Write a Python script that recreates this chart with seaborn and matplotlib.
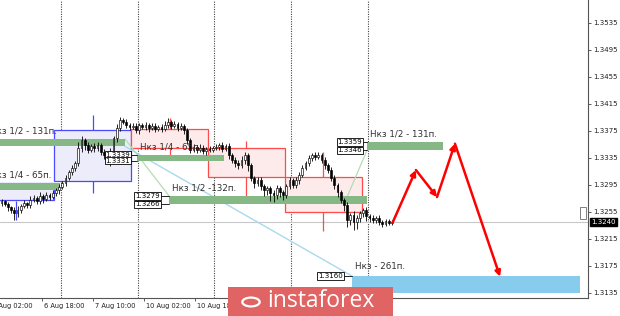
import numpy as np
import pandas as pd
import matplotlib
matplotlib.use("Agg")
import matplotlib.pyplot as plt
import matplotlib.transforms as mtransforms
from matplotlib.patches import Rectangle, Circle
import seaborn as sns

# ---------------- data (H1 candles, bar index = hour) ----------------
first_open = 1.3268
close = [
    1.3271, 1.3267, 1.3262, 1.3258, 1.3253, 1.3258, 1.3264, 1.3268, 1.3265, 1.3273,
    1.3276, 1.3271, 1.3279, 1.3274, 1.3280, 1.3277, 1.3283, 1.3287, 1.3292, 1.3298,
    1.3305, 1.3314, 1.3320, 1.3327, 1.3350, 1.3361, 1.3354, 1.3347, 1.3353, 1.3350,
    1.3354, 1.3344, 1.3339, 1.3332, 1.3344, 1.3364, 1.3379, 1.3391, 1.3388, 1.3384,
    1.3381, 1.3382, 1.3376, 1.3384, 1.3381, 1.3384, 1.3379, 1.3382, 1.3378, 1.3381,
    1.3378, 1.3384, 1.3388, 1.3382, 1.3385, 1.3379, 1.3382, 1.3376, 1.3361, 1.3347,
    1.3351, 1.3347, 1.3350, 1.3345, 1.3348, 1.3347, 1.3350, 1.3351, 1.3354, 1.3348,
    1.3353, 1.3339, 1.3332, 1.3327, 1.3324, 1.3332, 1.3339, 1.3324, 1.3305, 1.3298,
    1.3302, 1.3293, 1.3287, 1.3290, 1.3283, 1.3280, 1.3290, 1.3284, 1.3280, 1.3293,
    1.3302, 1.3295, 1.3302, 1.3310, 1.3320, 1.3327, 1.3335, 1.3339, 1.3336, 1.3339,
    1.3332, 1.3324, 1.3317, 1.3305, 1.3295, 1.3284, 1.3273, 1.3265, 1.3243, 1.3250,
    1.3240, 1.3246, 1.3253, 1.3258, 1.3249, 1.3246, 1.3243, 1.3246, 1.3240, 1.3237,
    1.3242, 1.3239, 1.3240,
]
up_wick_pips = [
    3, 2, 3, 2, 4, 5, 3, 4, 2, 6, 4, 3, 5, 3, 4, 3, 5, 3, 4, 3,
    4, 3, 5, 4, 8, 6, 4, 5, 3, 4, 5, 3, 4, 3, 5, 4, 6, 5, 3, 4,
    3, 4, 5, 2, 3, 4, 3, 5, 4, 3, 4, 5, 6, 3, 4, 3, 4, 3, 4, 3,
    4, 3, 5, 4, 3, 4, 3, 5, 3, 4, 3, 4, 3, 4, 5, 6, 4, 3, 4, 3,
    4, 5, 3, 4, 3, 4, 5, 3, 4, 3, 4, 3, 5, 4, 5, 3, 4, 3, 5, 4,
    3, 4, 3, 4, 5, 3, 4, 3, 5, 4, 6, 5, 4, 3, 4, 3, 4, 3, 4, 3,
    3, 2, 3,
]
down_wick_pips = [
    4, 3, 5, 4, 10, 6, 4, 3, 5, 4, 3, 5, 4, 6, 3, 4, 3, 4, 5, 3,
    4, 3, 4, 5, 4, 6, 7, 5, 4, 6, 5, 4, 6, 5, 9, 4, 5, 4, 3, 4,
    5, 3, 4, 6, 3, 4, 5, 3, 4, 3, 4, 3, 5, 4, 3, 4, 3, 5, 6, 5,
    4, 5, 3, 4, 5, 4, 3, 4, 5, 4, 3, 5, 4, 6, 5, 4, 6, 8, 5, 7,
    5, 6, 8, 7, 12, 11, 6, 7, 8, 5, 4, 5, 4, 5, 4, 3, 4, 5, 4, 3,
    4, 5, 4, 5, 6, 7, 5, 8, 10, 8, 12, 11, 6, 5, 7, 6, 5, 4, 5, 4,
    3, 4, 3,
]

y_ticks = [1.3135, 1.3175, 1.3215, 1.3255, 1.3295, 1.3335, 1.3375, 1.3415,
           1.3455, 1.3495, 1.3535]
x_tick_pos = [-3.5, 12.5, 28.5, 44.5, 60.5]
x_tick_labels = ["6 Aug 02:00", "6 Aug 18:00", "7 Aug 10:00", "10 Aug 02:00",
                 "10 Aug 18:00"]
day_separators = [18.5, 42.5, 66.5, 90.5, 114.5]
current_price = 1.3240

# rectangles: (start bar, end bar, low, high)
blue_boxes = [(-10, 16.5, 1.3273, 1.3298), (16.5, 40.5, 1.3301, 1.3376)]
red_boxes = [(40.5, 64.5, 1.3350, 1.3378), (64.5, 88.5, 1.3307, 1.3350),
             (88.5, 112.5, 1.3255, 1.3307)]
box_mid_blue = [(4.5, [(1.3243, 1.3271)]), (28.5, [(1.3376, 1.3398), (1.3283, 1.3301)])]
box_mid_red = [(52.5, [(1.3378, 1.3394), (1.3333, 1.3350)]),
               (76.5, [(1.3350, 1.3360), (1.3268, 1.3307)]),
               (100.5, [(1.3307, 1.3344), (1.3227, 1.3255)])]

green_bands = [(-4.5, 38.6, 1.3352, 1.3363, "Нкз 1/2 - 131п."),
               (-4.5, 18.3, 1.3288, 1.3298, "Нкз 1/4 - 65п."),
               (42.3, 69.5, 1.3331, 1.3339, "Нкз 1/4 - 65п."),
               (52.3, 114.2, 1.3266, 1.3279, "Нкз 1/2 -132п."),
               (114.2, 138.0, 1.3346, 1.3359, "Нкз 1/2 - 131п.")]
blue_band = (109.5, 180.8, 1.3135, 1.3160, "Нкз - 261п.")

# price labels: (right edge bar, price, text, line end bar)
price_labels = [(112.7, 1.3359, "1.3359", 114.2), (112.7, 1.3346, "1.3346", 114.2),
                (49.5, 1.3279, "1.3279", 52.3), (49.5, 1.3266, "1.3266", 52.3),
                (106.7, 1.3160, "1.3160", 109.5),
                (40.2, 1.3339, "1.3339", 42.3), (40.2, 1.3331, "1.3331", 42.3)]

# projection path
path_x = [122.3, 129.5, 136.1, 141.7, 155.8]
path_y = [1.3240, 1.3317, 1.3277, 1.3356, 1.3159]

# ---------------- figure ----------------
sns.set_theme(style="white")
plt.rcParams['font.family'] = ['DejaVu Sans']

W, H = 620, 316
fig = plt.figure(figsize=(W / 100, H / 100), dpi=100)
ax = fig.add_axes([0, 18 / H, 588 / W, 298 / H])

# day separators
for d in day_separators:
    ax.axvline(d, color="#444444", lw=0.8, ls=(0, (1, 1.2)), zorder=1)

# current price line
ax.axhline(current_price, color="#c8c8c8", lw=0.8, zorder=1)

# blue boxes
for x0, x1, lo, hi in blue_boxes:
    ax.add_patch(Rectangle((x0, lo), x1 - x0, hi - lo, facecolor="#ececfa",
                           edgecolor="#4a4aff", lw=0.9, zorder=2))
for xm, segs in box_mid_blue:
    for lo, hi in segs:
        ax.vlines(xm, lo, hi, color="#4a4aff", lw=0.9, zorder=2)

# red boxes
for x0, x1, lo, hi in red_boxes:
    ax.add_patch(Rectangle((x0, lo), x1 - x0, hi - lo, facecolor="#fdeaea",
                           edgecolor="#ff4a4a", lw=0.9, zorder=2))
for xm, segs in box_mid_red:
    for lo, hi in segs:
        ax.vlines(xm, lo, hi, color="#ff4a4a", lw=0.9, zorder=2)

# green bands
for x0, x1, lo, hi, txt in green_bands:
    ax.add_patch(Rectangle((x0, lo), x1 - x0, hi - lo, facecolor="#86b886",
                           edgecolor="none", zorder=3))
    ax.annotate(txt, xy=(x0, hi), xytext=(3, 8), textcoords="offset pixels",
                fontsize=6.3, color="#303030", va="center", ha="left", zorder=6,
                annotation_clip=False)

bx0, bx1, blo, bhi, btxt = blue_band
ax.add_patch(Rectangle((bx0, blo), bx1 - bx0, bhi - blo, facecolor="#87ccec",
                       edgecolor="none", zorder=3))
ax.annotate(btxt, xy=(bx0, bhi), xytext=(3, 9), textcoords="offset pixels",
            fontsize=6.3, color="#303030", va="center", ha="left", zorder=6,
            annotation_clip=False)

# diagonal guide lines
ax.plot([38.6, 109.5], [1.3352, 1.3160], color="#a9d9ee", lw=1.0, zorder=2)
ax.plot([38.6, 52.3], [1.3363, 1.3279], color="#b5dcb5", lw=0.9, zorder=2)
ax.plot([107.0, 114.2], [1.3266, 1.3346], color="#b5dcb5", lw=0.9, zorder=2)

# candles
df = pd.DataFrame({"close": close})
df["open"] = [first_open] + close[:-1]
df["high"] = df[["open", "close"]].max(axis=1) + np.array(up_wick_pips) * 1e-4
df["low"] = df[["open", "close"]].min(axis=1) - np.array(down_wick_pips) * 1e-4
df["bar"] = np.arange(len(df))
ax.vlines(df["bar"], df["low"], df["high"], color="black", lw=0.6, zorder=4)
bull = df["close"] >= df["open"]
heights = (df["close"] - df["open"]).abs().clip(lower=0.00004)
bottoms = df[["open", "close"]].min(axis=1)
ax.bar(df["bar"][bull], heights[bull], bottom=bottoms[bull], width=0.62,
       color="white", edgecolor="black", lw=0.45, zorder=5)
ax.bar(df["bar"][~bull], heights[~bull], bottom=bottoms[~bull], width=0.62,
       color="black", edgecolor="black", lw=0.45, zorder=5)

# price labels
for xr, p, txt, xe in price_labels:
    ax.plot([xr, xe], [p, p], color="black", lw=0.6, zorder=6)
    ax.text(xr, p, txt, fontsize=5, ha="right", va="center", color="black",
            bbox=dict(boxstyle="square,pad=0.12", fc="white", ec="black", lw=0.6),
            zorder=7)

# projection arrows
for i in range(len(path_x) - 1):
    ax.annotate("", xy=(path_x[i + 1], path_y[i + 1]), xytext=(path_x[i], path_y[i]),
                arrowprops=dict(arrowstyle="-|>", color="#ff0000", lw=1.8,
                                mutation_scale=8, shrinkA=0, shrinkB=0),
                zorder=8)

# shift marker
ax.add_patch(Rectangle((180.9, 1.3244), 1.8, 0.0018, facecolor="white",
                       edgecolor="#808080", lw=0.7, zorder=6))

# axes styling
for s in ["top", "left"]:
    ax.spines[s].set_visible(False)
for s in ["right", "bottom"]:
    ax.spines[s].set_color("#555555")
    ax.spines[s].set_linewidth(0.8)
ax.yaxis.tick_right()
ax.set_yticks(y_ticks)
ax.set_yticklabels([f"{v:.4f}" for v in y_ticks], fontsize=5, color="#202020")
ax.tick_params(axis="y", direction="out", length=2.5, width=0.6, pad=1.5,
               colors="#404040", labelcolor="#202020", right=True)
ax.set_xticks(x_tick_pos)
ax.set_xticklabels([])
ax.tick_params(axis="x", direction="out", length=2.5, width=0.6,
               colors="#404040", bottom=True)
ax.grid(False)
# time labels, left-aligned just right of each tick (first one runs off the left edge)
for xp, lab in zip(x_tick_pos, x_tick_labels):
    ax.annotate(lab, xy=(xp, 0), xycoords=("data", "axes fraction"),
                xytext=(2, -8), textcoords="offset pixels", fontsize=4.8,
                color="#202020", ha="left", va="center", annotation_clip=False)

# limits last (set_xticks would otherwise widen them)
ax.set_xlim(-0.47, 183.28)
ax.set_ylim(1.31274, 1.35689)

# current price tag on the axis
trans = mtransforms.blended_transform_factory(ax.transAxes, ax.transData)
ax.text(1.006, current_price, "1.3240", transform=trans, fontsize=5, color="white",
        ha="left", va="center", clip_on=False,
        bbox=dict(boxstyle="square,pad=0.15", fc="black", ec="black"), zorder=9)

# logo
fig.add_artist(Rectangle((228 / W, 0), 165 / W, 29 / H, transform=fig.transFigure,
                         facecolor="#e06464", edgecolor="none", zorder=20))
fig.add_artist(Circle((251 / W, 14 / H), 0.014, transform=fig.transFigure,
                      facecolor="none", edgecolor="white", lw=1.6, zorder=21))
fig.text(267 / W, 15 / H, "instaforex", color="white", fontsize=16.5,
         family=["Open Sans", "DejaVu Sans"], ha="left", va="center", zorder=21)

fig.savefig("out.png", dpi=100)
